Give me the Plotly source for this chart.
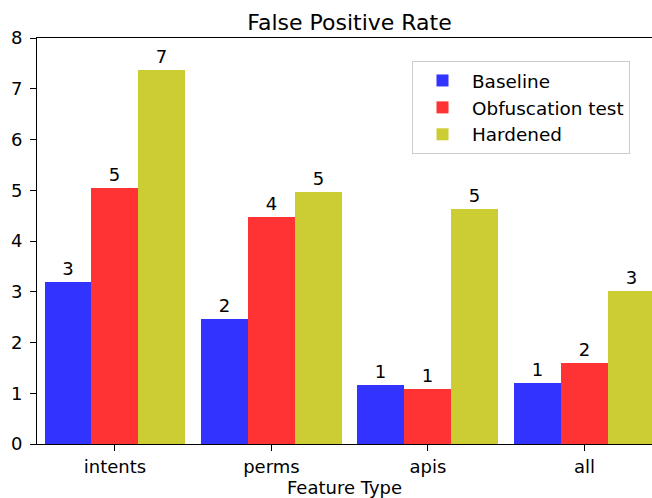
import plotly.graph_objects as go

categories = ["intents", "perms", "apis", "all"]
baseline = [3.2, 2.47, 1.17, 1.21]
obfuscation = [5.05, 4.48, 1.09, 1.59]
hardened = [7.37, 4.96, 4.63, 3.01]
baseline_labels = ["3", "2", "1", "1"]
obfuscation_labels = ["5", "4", "1", "2"]
hardened_labels = ["7", "5", "5", "3"]

series = [
    ("Baseline", baseline, baseline_labels, "#3333ff", -0.3),
    ("Obfuscation test", obfuscation, obfuscation_labels, "#ff3333", 0.0),
    ("Hardened", hardened, hardened_labels, "#cccc33", 0.3),
]

font = "DejaVu Sans"
fig = go.Figure()
xs = list(range(len(categories)))
for name, vals, labels, color, off in series:
    fig.add_trace(go.Bar(
        x=[x + off for x in xs], y=vals, name=name, width=0.3,
        marker=dict(color=color, line=dict(width=0)),
        text=labels, textposition="outside", cliponaxis=False,
        textfont=dict(family=font, size=18, color="black"),
    ))

fig.update_layout(
    width=652, height=498,
    margin=dict(l=37, r=0, t=38, b=54, autoexpand=False),
    plot_bgcolor="white", paper_bgcolor="white",
    font=dict(family=font, size=18, color="black"),
    title=dict(text="False Positive Rate", x=349.5 / 652, xref="container",
               xanchor="center", y=1 - 22 / 498, yanchor="middle",
               font=dict(size=22)),
    bargap=0, barmode="overlay",
    showlegend=True,
    legend=dict(x=(412 - 37) / 615, y=1 - 23 / 406, xanchor="left", yanchor="top",
                bordercolor="#cccccc", borderwidth=1, bgcolor="rgba(255,255,255,0.8)",
                font=dict(size=18.4), tracegroupgap=0, itemwidth=49),
    xaxis=dict(range=[-0.498, 3.432], tickvals=xs, ticktext=categories, automargin=False,
               showgrid=False, zeroline=False, showline=True, linecolor="black", linewidth=1,
               mirror=True, ticks="outside", ticklen=6, tickcolor="black",
               tickfont=dict(size=18),
               title=dict(text="Feature Type", standoff=8, font=dict(size=18))),
    yaxis=dict(range=[0, 8], dtick=1, showgrid=False, zeroline=False, automargin=False,
               showline=True, linecolor="black", linewidth=1, ticklabelstandoff=4,
               ticks="outside", ticklen=6, tickcolor="black", tickfont=dict(size=18)),
)

fig.write_html(
    "out.html",
    config={"displayModeBar": False},
    post_script="document.body.style.margin='0';document.body.style.overflow='hidden';",
)
